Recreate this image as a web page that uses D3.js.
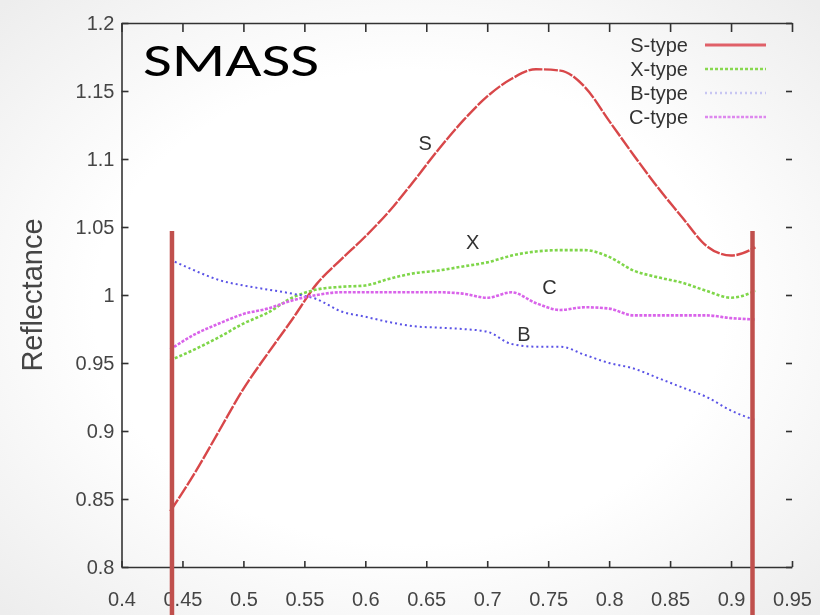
<!DOCTYPE html>
<html lang="en">
<head>
<meta charset="UTF-8">
<title>SMASS reflectance</title>
<script src="https://d3js.org/d3.v7.min.js"></script>
<style>
  body { margin: 0; background: #fff; }
  svg { display: block; font-family: "Liberation Sans", Arial, sans-serif; }
  .axis path, .axis line { stroke: #333; stroke-width: 1.6; }
  .axis text { font-size: 20px; fill: #444; }
  .legend text { font-size: 20px; fill: #333; text-anchor: end; }
  .curve-label { font-size: 20px; fill: #333; text-anchor: middle; }
</style>
</head>
<body>
<svg id="chart" width="820" height="615"></svg>
<script>
// wavelength grid (microns)
const wavelengths = [0.44, 0.46, 0.48, 0.50, 0.52, 0.54, 0.56, 0.58, 0.60, 0.62, 0.64, 0.66, 0.68,
                     0.70, 0.72, 0.74, 0.76, 0.78, 0.80, 0.82, 0.84, 0.86, 0.88, 0.90, 0.92];

const sType = [0.841, 0.869, 0.900, 0.931, 0.957, 0.982, 1.008, 1.026, 1.043, 1.062, 1.084, 1.107, 1.128,
               1.146, 1.159, 1.166, 1.165, 1.153, 1.128, 1.103, 1.079, 1.057, 1.036, 1.029, 1.035];
const xType = [0.952, 0.960, 0.969, 0.979, 0.987, 0.998, 1.004, 1.006, 1.007, 1.012, 1.016, 1.018, 1.021,
               1.024, 1.029, 1.032, 1.033, 1.033, 1.028, 1.018, 1.013, 1.009, 1.003, 0.998, 1.003];
const bType = [1.026, 1.018, 1.011, 1.007, 1.004, 1.001, 0.997, 0.988, 0.984, 0.980, 0.977, 0.976, 0.975,
               0.973, 0.964, 0.962, 0.962, 0.956, 0.950, 0.946, 0.939, 0.932, 0.925, 0.915, 0.908];
const cType = [0.960, 0.971, 0.979, 0.986, 0.990, 0.996, 1.000, 1.002, 1.002, 1.002, 1.002, 1.002, 1.001,
               0.998, 1.002, 0.994, 0.989, 0.991, 0.990, 0.985, 0.985, 0.985, 0.985, 0.983, 0.982];

const seriesNames = ["S-type", "X-type", "B-type", "C-type"];
const seriesValues = [sType, xType, bType, cType];
const curveLetters = ["S", "X", "B", "C"];
const letterPos = [[0.649, 1.112], [0.688, 1.039], [0.730, 0.971], [0.751, 1.006]];

const xTicks = [0.4, 0.45, 0.5, 0.55, 0.6, 0.65, 0.7, 0.75, 0.8, 0.85, 0.9, 0.95];
const xTickLabels = ["0.4", "0.45", "0.5", "0.55", "0.6", "0.65", "0.7", "0.75", "0.8", "0.85", "0.9", "0.95"];
const yTicks = [0.8, 0.85, 0.9, 0.95, 1, 1.05, 1.1, 1.15, 1.2];
const yTickLabels = ["0.8", "0.85", "0.9", "0.95", "1", "1.05", "1.1", "1.15", "1.2"];

// the two red band markers (wavelength, top reflectance)
const bandMarks = [0.4414, 0.9176];
const bandTop = 1.047;

const styles = [
  { color: "#d8474a", width: 2.4, dash: "14,1.5", legend: "#e06068" },
  { color: "#7fd64a", width: 2.6, dash: "3,2",    legend: "#88d850" },
  { color: "#5a52e6", width: 2.0, dash: "2,3",    legend: "#c8c6f2" },
  { color: "#d964ea", width: 2.6, dash: "3,1.5",  legend: "#dd88ee" }
];

const svg = d3.select("#chart");

const x = d3.scaleLinear().domain([0.4, 0.95]).range([121.5, 792]);
const y = d3.scaleLinear().domain([0.8, 1.2]).range([567, 23]);

// soft vignette like the scanned figure
const defs = svg.append("defs");
const rg = defs.append("radialGradient").attr("id", "vig")
  .attr("cx", "50%").attr("cy", "50%").attr("r", "70%");
rg.append("stop").attr("offset", "55%").attr("stop-color", "#ffffff");
rg.append("stop").attr("offset", "100%").attr("stop-color", "#ededed");
svg.append("rect").attr("width", 820).attr("height", 615).attr("fill", "url(#vig)");

defs.append("filter").attr("id", "soft")
  .append("feGaussianBlur").attr("stdDeviation", 0.5);

const plot = svg.append("g").attr("filter", "url(#soft)");

// axes
plot.append("g").attr("class", "axis")
  .attr("transform", `translate(0,${y(0.8)})`)
  .call(d3.axisBottom(x).tickValues(xTicks).tickSize(-6).tickSizeOuter(0).tickPadding(25)
    .tickFormat((d, i) => xTickLabels[i]));

plot.append("g").attr("class", "axis")
  .attr("transform", `translate(${x(0.4)},0)`)
  .call(d3.axisLeft(y).tickValues(yTicks).tickSize(-7).tickSizeOuter(0).tickPadding(7)
    .tickFormat((d, i) => yTickLabels[i]));

plot.append("g").attr("class", "axis")
  .attr("transform", `translate(0,${y(1.2)})`)
  .call(d3.axisTop(x).tickValues(xTicks).tickSize(-9).tickSizeOuter(0).tickFormat(""));

const right = plot.append("g").attr("class", "axis")
  .attr("transform", `translate(${x(0.95)},0)`)
  .call(d3.axisRight(y).tickValues(yTicks).tickSize(-6).tickSizeOuter(0).tickFormat(""));
right.select(".domain").remove();

// curves
const line = d3.line()
  .x((d, i) => x(wavelengths[i]))
  .y(d => y(d))
  .curve(d3.curveMonotoneX);

plot.selectAll(".spectrum")
  .data(seriesValues)
  .join("path")
  .attr("class", "spectrum")
  .attr("fill", "none")
  .attr("stroke", (d, i) => styles[i].color)
  .attr("stroke-width", (d, i) => styles[i].width)
  .attr("stroke-dasharray", (d, i) => styles[i].dash)
  .attr("d", line);

plot.selectAll(".curve-label")
  .data(curveLetters)
  .join("text")
  .attr("class", "curve-label")
  .attr("x", (d, i) => x(letterPos[i][0]))
  .attr("y", (d, i) => y(letterPos[i][1]))
  .attr("dy", "0.35em")
  .text(d => d);

// legend
const legend = plot.append("g").attr("class", "legend");
const rows = legend.selectAll("g")
  .data(seriesNames)
  .join("g")
  .attr("transform", (d, i) => `translate(0,${45 + i * 24})`);
rows.append("text").attr("x", 688).attr("dy", "0.35em").text(d => d);
rows.append("line")
  .attr("x1", 705).attr("x2", 766)
  .attr("stroke", (d, i) => styles[i].legend)
  .attr("stroke-width", (d, i) => i === 0 ? 3 : 2.6)
  .attr("stroke-dasharray", (d, i) => i === 0 ? null : styles[i].dash);

// y label
svg.append("text")
  .attr("transform", `translate(42,${y(1.0)}) rotate(-90)`)
  .attr("text-anchor", "middle")
  .attr("font-size", 29)
  .attr("fill", "#444")
  .attr("filter", "url(#soft)")
  .text("Reflectance");

// red band markers
svg.selectAll(".band")
  .data(bandMarks)
  .join("line")
  .attr("class", "band")
  .attr("x1", d => x(d)).attr("x2", d => x(d))
  .attr("y1", y(bandTop)).attr("y2", 615)
  .attr("stroke", "#c0504d")
  .attr("stroke-width", 4.5);

// title
svg.append("text")
  .attr("x", 143).attr("y", 76)
  .attr("font-family", "Carlito, 'Noto Sans', sans-serif")
  .attr("font-size", 47)
  .attr("textLength", 176)
  .attr("lengthAdjust", "spacingAndGlyphs")
  .attr("fill", "#000")
  .text("SMASS");
</script>
</body>
</html>
